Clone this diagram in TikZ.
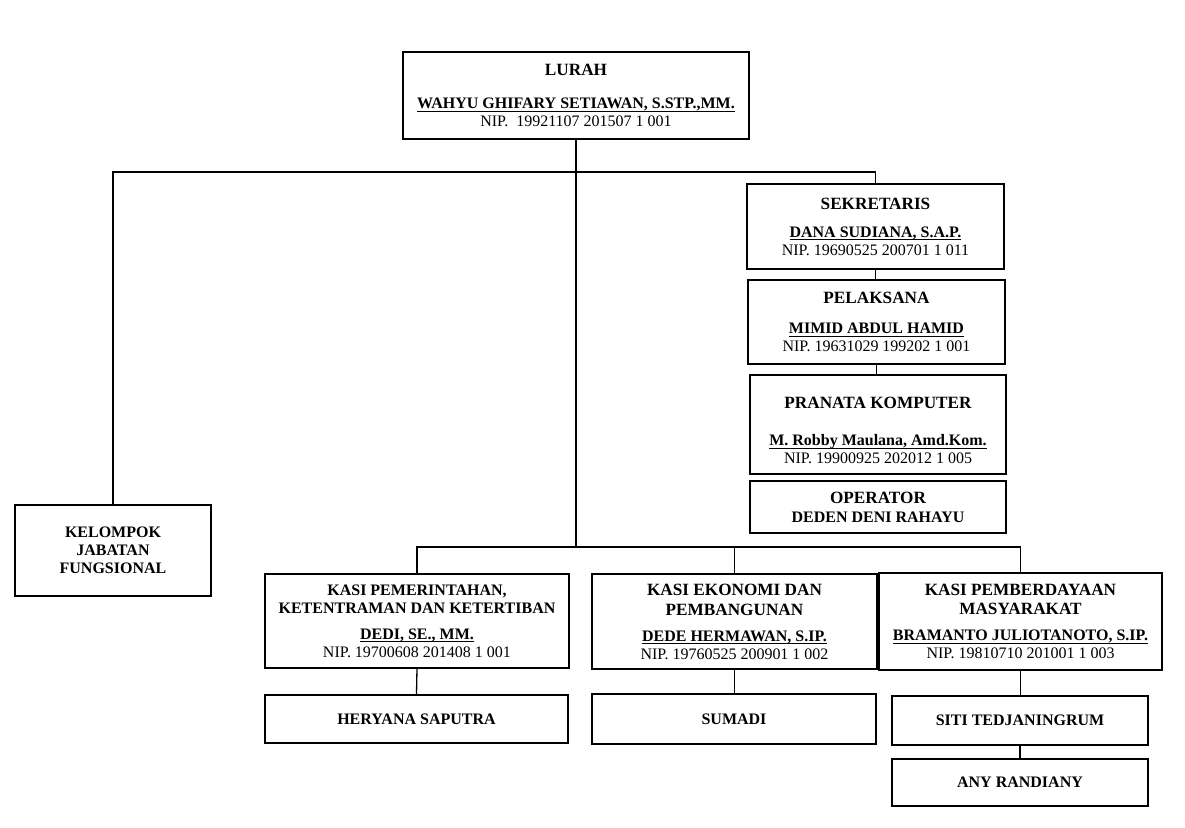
\documentclass[tikz,border=0pt]{standalone}
\usepackage{fontspec}
\setmainfont{Liberation Serif}
\begin{document}
\begin{tikzpicture}[x=0.5pt,y=-0.5pt,
  box/.style={draw, line width=0.65pt, inner sep=0pt, align=center, text=black,
    font=\fontsize{8}{9}\selectfont},
  sz/.style 2 args={minimum width=#1*0.5pt, minimum height=#2*0.5pt},
  conn/.style={line width=0.65pt}]
\newcommand{\ttl}[1]{{\fontsize{8.6}{9}\selectfont\bfseries #1}}
\newcommand{\nm}[1]{\setbox0\hbox{\textbf{#1}}\rlap{\copy0}\rule[-1.6pt]{\wd0}{0.6pt}}
\useasboundingbox (0,0) rectangle (1185,828);

\node[box, sz={346}{87}] (lurah) at (576,95.5)
  {\ttl{LURAH}\\[7.5pt]\nm{WAHYU GHIFARY SETIAWAN, S.STP.,MM.}\\NIP.\ \ 19921107 201507 1 001};
\node[box, sz={257}{85}] (sek) at (875.5,226.5)
  {\ttl{SEKRETARIS}\\[5pt]\nm{DANA SUDIANA, S.A.P.}\\NIP. 19690525 200701 1 011};
\node[box, sz={257}{84}] (pel) at (876.5,322)
  {\ttl{PELAKSANA}\\[6pt]\nm{MIMID ABDUL HAMID}\\NIP. 19631029 199202 1 001};
\node[box, sz={256}{99}] (pra) at (878,424.5)
  {\ttl{\rule{0pt}{12pt}PRANATA KOMPUTER}\\[9.5pt]\nm{M. Robby Maulana, Amd.Kom.}\\NIP. 19900925 202012 1 005};
\node[box, sz={256}{52}] (ope) at (878,507)
  {\ttl{OPERATOR}\\[0.5pt]\textbf{DEDEN DENI RAHAYU}};
\node[box, sz={196}{91}] (kel) at (113,550.5)
  {\textbf{KELOMPOK}\\\textbf{JABATAN}\\\textbf{FUNGSIONAL}};
\node[box, sz={304}{94}] (kpem) at (417,621)
  {\textbf{KASI PEMERINTAHAN,}\\\textbf{KETENTRAMAN DAN KETERTIBAN}\\[4pt]\nm{DEDI, SE., MM.}\\NIP. 19700608 201408 1 001};
\node[box, sz={285}{95}] (keko) at (734.5,621.5)
  {\ttl{KASI EKONOMI DAN}\\[1pt]\ttl{PEMBANGUNAN}\\[4pt]\nm{DEDE HERMAWAN, S.IP.}\\NIP. 19760525 200901 1 002};
\node[box, sz={283}{97}] (kpmb) at (1020.5,621.5)
  {\ttl{KASI PEMBERDAYAAN}\\[0.5pt]\ttl{MASYARAKAT}\\[4pt]\nm{BRAMANTO JULIOTANOTO, S.IP.}\\NIP. 19810710 201001 1 003};
\node[box, sz={303}{48}] (hery) at (416.5,719) {\textbf{HERYANA SAPUTRA}};
\node[box, sz={284}{50}] (sum) at (734,719) {\textbf{SUMADI}};
\node[box, sz={256}{49}] (siti) at (1020,720.5) {\textbf{SITI TEDJANINGRUM}};
\node[box, sz={256}{47}] (any) at (1020,782.5) {\textbf{ANY RANDIANY}};

\coordinate (top) at (576,172);
\coordinate (busc) at (576,547);

\draw[conn] (lurah.south) -- (busc);
\draw[conn] (kel.north) -- (kel.north |- top) -- (sek.north |- top) -- (sek.north);
\draw[conn] (sek.south) -- (sek.south |- pel.north);
\draw[conn] (pel.south) -- (pel.south |- pra.north);
\draw[conn] (kpem.north) -- (kpem.north |- busc) -- (kpmb.north |- busc) -- (kpmb.north);
\draw[conn] (keko.north |- busc) -- (keko.north);
\draw[conn] (kpem.south) -- (hery.north);
\draw[conn] (keko.south) -- (keko.south |- sum.north);
\draw[conn] (kpmb.south) -- (kpmb.south |- siti.north);
\draw[conn] (siti.south) -- (any.north);
\end{tikzpicture}
\end{document}
